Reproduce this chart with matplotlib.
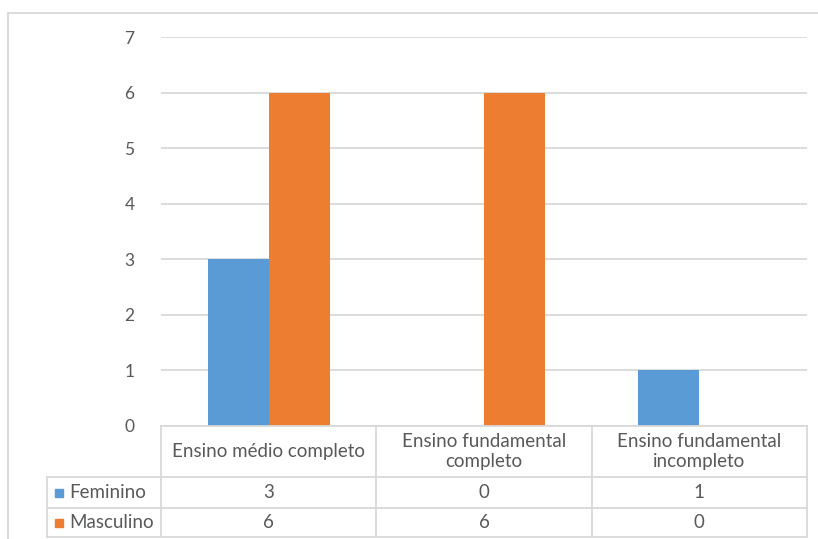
import matplotlib
matplotlib.use("Agg")
import matplotlib.pyplot as plt
from matplotlib.patches import Rectangle
import numpy as np

categories = ["Ensino médio completo", "Ensino fundamental\ncompleto", "Ensino fundamental\nincompleto"]
series_names = ["Feminino", "Masculino"]
feminino = [3, 0, 1]
masculino = [6, 6, 0]
y_ticks = [0, 1, 2, 3, 4, 5, 6, 7]

colors = ["#5b9bd5", "#ed7d31"]
grid_c = "#d9d9d9"
text_c = "#595959"
plt.rcParams["font.family"] = ["Lato", "DejaVu Sans"]

W, H = 818, 539
fig = plt.figure(figsize=(W / 100, H / 100), dpi=100)

# pixel-space layout of the plot area
L, R, T, B = 161, 807, 37, 426
ax = fig.add_axes([L / W, 1 - B / H, (R - L) / W, (B - T) / H])
n = len(categories)
x = np.arange(n)
bw = 0.283
ax.bar(x - bw / 2, feminino, bw, color=colors[0], zorder=3)
ax.bar(x + bw / 2, masculino, bw, color=colors[1], zorder=3)
ax.set_xlim(-0.5, n - 0.5)
ax.set_ylim(0, max(y_ticks))
ax.set_yticks(y_ticks)
ax.yaxis.grid(True, color=grid_c, linewidth=1.3, zorder=0)
ax.set_xticks([])
for s in ax.spines.values():
    s.set_visible(False)
ax.tick_params(axis="y", length=0, pad=19, labelsize=12.5, labelcolor=text_c)

# overlay in pixel coordinates for border and data table
ov = fig.add_axes([0, 0, 1, 1], zorder=5)
ov.set_xlim(0, W)
ov.set_ylim(H, 0)
ov.axis("off")
ov.patch.set_alpha(0)

# chart frame
ov.plot([8, W], [13, 13], color=grid_c, lw=1.3)
ov.plot([8, 8], [13, H], color=grid_c, lw=1.3)

# data table
row_h = [B, 477, 508, 537]
legend_left = 47
col_w = (R - L) / n
col_edges = [L + i * col_w for i in range(n + 1)]
ov.plot([L, R], [B, B], color=grid_c, lw=1.3)
for yy in row_h[1:]:
    ov.plot([legend_left, R], [yy, yy], color=grid_c, lw=1.3)
for xx in col_edges:
    ov.plot([xx, xx], [B, row_h[-1]], color=grid_c, lw=1.3)
ov.plot([legend_left, legend_left], [row_h[1], row_h[-1]], color=grid_c, lw=1.3)

fs = 13.5
for i, cat in enumerate(categories):
    cx = (col_edges[i] + col_edges[i + 1]) / 2
    ov.text(cx, (row_h[0] + row_h[1]) / 2, cat, ha="center", va="center",
            fontsize=fs, color=text_c, linespacing=1.2)

for r, (name, vals) in enumerate(zip(series_names, [feminino, masculino])):
    cy = (row_h[r + 1] + row_h[r + 2]) / 2
    ov.add_patch(Rectangle((55, cy - 3.5), 8, 8, color=colors[r]))
    ov.text(69, cy, name, ha="left", va="center", fontsize=fs, color=text_c)
    for i, v in enumerate(vals):
        cx = (col_edges[i] + col_edges[i + 1]) / 2
        ov.text(cx, cy, str(v), ha="center", va="center", fontsize=fs, color=text_c)

fig.savefig("out.png", dpi=100, facecolor="white")
